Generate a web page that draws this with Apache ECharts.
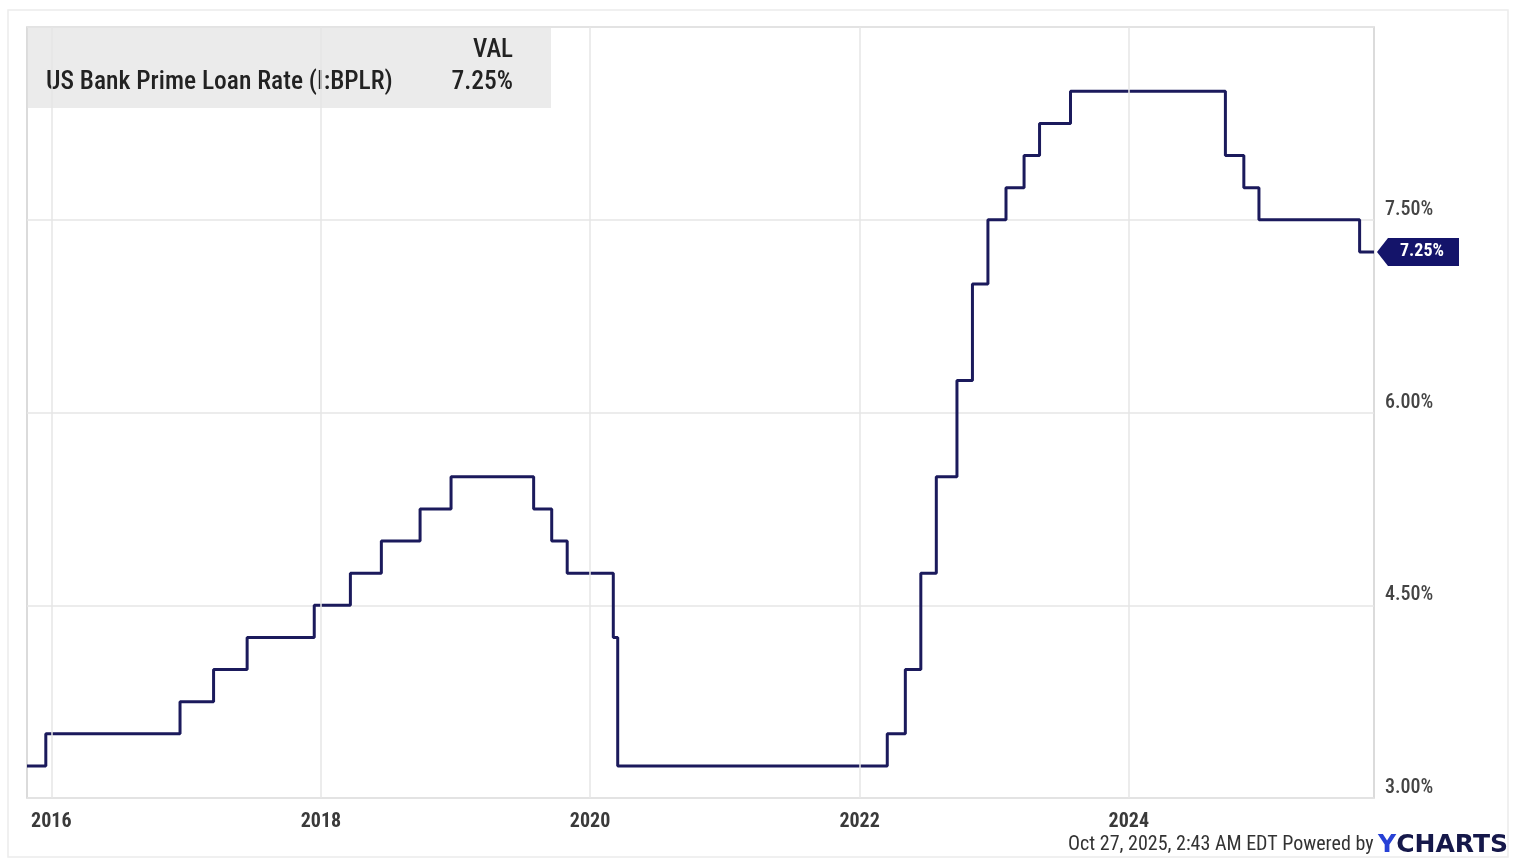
<!DOCTYPE html>
<html>
<head>
<meta charset="utf-8">
<title>US Bank Prime Loan Rate</title>
<script src="https://cdn.jsdelivr.net/npm/echarts@6/dist/echarts.min.js"></script>
<style>
  html, body { margin: 0; padding: 0; background: #ffffff; }
  #chart { width: 1513px; height: 862px; }
</style>
</head>
<body>
<div id="chart"></div>
<script>
// Prime rate: value at the start of the window, then each change date with the new rate
const startDate = '2015-10-27';
const startRate = 3.25;
const changeDates = [
  '2015-12-17', '2016-12-15', '2017-03-16', '2017-06-15', '2017-12-14',
  '2018-03-22', '2018-06-14', '2018-09-27', '2018-12-20', '2019-08-01',
  '2019-09-19', '2019-10-31', '2020-03-04', '2020-03-16', '2022-03-17',
  '2022-05-05', '2022-06-16', '2022-07-28', '2022-09-22', '2022-11-03',
  '2022-12-15', '2023-02-02', '2023-03-23', '2023-05-04', '2023-07-27',
  '2024-09-19', '2024-11-08', '2024-12-19', '2025-09-18'
];
const changeRates = [
  3.50, 3.75, 4.00, 4.25, 4.50,
  4.75, 5.00, 5.25, 5.50, 5.25,
  5.00, 4.75, 4.25, 3.25, 3.50,
  4.00, 4.75, 5.50, 6.25, 7.00,
  7.50, 7.75, 8.00, 8.25, 8.50,
  8.00, 7.75, 7.50, 7.25
];
const endDate = '2025-10-27';
const latestRate = 7.25;

// Axis ticks
const yearTicks = [2016, 2018, 2020, 2022, 2024];
const rateTicks = [3.00, 4.50, 6.00, 7.50];

const seriesName = 'US Bank Prime Loan Rate (I:BPLR)';
const footerText = 'Oct 27, 2025, 2:43 AM EDT Powered by ';

const NAVY = '#1b1a5c';
const GRID = '#e6e6e6';
const FONT = "'Roboto Condensed', Roboto, sans-serif";

// Dates become millisecond timestamps on a numeric x axis
const ts = s => {
  const [y, m, d] = s.split('-').map(Number);
  return Date.UTC(y, m - 1, d);
};
const points = [[ts(startDate), startRate]];
changeDates.forEach((d, i) => points.push([ts(d), changeRates[i]]));
points.push([ts(endDate), latestRate]);

const yearValues = yearTicks.map(y => Date.UTC(y, 0, 1));

const chart = echarts.init(document.getElementById('chart'), null, { renderer: 'canvas' });

chart.setOption({
  animation: false,
  backgroundColor: '#ffffff',
  grid: {
    left: 27, right: 139, top: 27, bottom: 64,
    show: true, borderColor: '#cfcfcf', borderWidth: 1.5,
    containLabel: false
  },
  xAxis: {
    type: 'value',
    min: ts(startDate),
    max: ts(endDate),
    axisLine: { show: false },
    axisTick: { show: false, customValues: yearValues },
    splitLine: { show: false },
    axisLabel: {
      customValues: yearValues,
      formatter: v => String(new Date(v).getUTCFullYear()),
      color: '#3a3a3a', fontFamily: FONT, fontSize: 20, fontWeight: 'bold',
      margin: 14
    }
  },
  yAxis: {
    type: 'value',
    position: 'right',
    min: 3, max: 9, interval: 1.5,
    axisLine: { show: false },
    axisTick: { show: false },
    splitLine: { show: true, lineStyle: { color: GRID, width: 1.5 } },
    axisLabel: {
      showMaxLabel: false,
      formatter: v => rateTicks.indexOf(v) >= 0 ? v.toFixed(2) + '%' : '',
      color: '#444444', fontFamily: FONT, fontSize: 20, fontWeight: 500,
      align: 'left', verticalAlign: 'bottom', margin: 11
    }
  },
  series: [{
    name: seriesName,
    type: 'line',
    step: 'end',
    showSymbol: false,
    data: points,
    lineStyle: { color: NAVY, width: 3 },
    z: 3,
    markLine: {
      silent: true,
      symbol: ['none', 'none'],
      label: { show: false },
      lineStyle: { color: GRID, width: 1.5, type: 'solid' },
      data: yearValues.map(v => ({ xAxis: v }))
    },
    markPoint: {
      silent: true,
      data: [{ coord: [ts(endDate), latestRate], value: latestRate }],
      symbol: 'path://M0,14 L11,0 L82,0 L82,28 L11,28 Z',
      symbolSize: [82, 28],
      symbolOffset: [44, 0],
      symbolKeepAspect: false,
      itemStyle: { color: '#14146a' },
      label: {
        show: true,
        position: 'inside',
        offset: [4, 0],
        formatter: p => p.value.toFixed(2) + '%',
        color: '#ffffff', fontFamily: FONT, fontSize: 18, fontWeight: 'bold'
      }
    }
  }],
  graphic: [
    {
      type: 'rect', z: -1, silent: true,
      shape: { x: 8, y: 10, width: 1500, height: 847 },
      style: { fill: 'none', stroke: '#ececec', lineWidth: 1.5 }
    },
    {
      type: 'rect', silent: true,
      shape: { x: 27, y: 27, width: 524, height: 81 },
      style: { fill: 'rgba(222,222,222,0.62)' }
    },
    {
      type: 'text', silent: true,
      style: {
        x: 513, y: 51, text: 'VAL', align: 'right', verticalAlign: 'middle',
        fill: '#222222', font: '500 25px ' + FONT
      }
    },
    {
      type: 'text', silent: true,
      style: {
        x: 46, y: 83, text: seriesName, align: 'left', verticalAlign: 'middle',
        fill: '#222222', font: '500 25.5px ' + FONT
      }
    },
    {
      type: 'text', silent: true,
      style: {
        x: 513, y: 83, text: latestRate.toFixed(2) + '%', align: 'right', verticalAlign: 'middle',
        fill: '#222222', font: '500 25.5px ' + FONT
      }
    },
    {
      type: 'text', silent: true,
      style: {
        x: 1508, y: 845, align: 'right', verticalAlign: 'middle',
        text: '{a|' + footerText + '}{y|Y}{c|CHARTS}',
        rich: {
          a: { fill: '#333333', fontFamily: FONT, fontSize: 20 },
          y: { fill: '#2741d6', fontFamily: "'DejaVu Sans', sans-serif", fontSize: 25, fontWeight: 'bold' },
          c: { fill: '#15184a', fontFamily: "'DejaVu Sans', sans-serif", fontSize: 25, fontWeight: 'bold' }
        }
      }
    }
  ]
});
</script>
</body>
</html>
